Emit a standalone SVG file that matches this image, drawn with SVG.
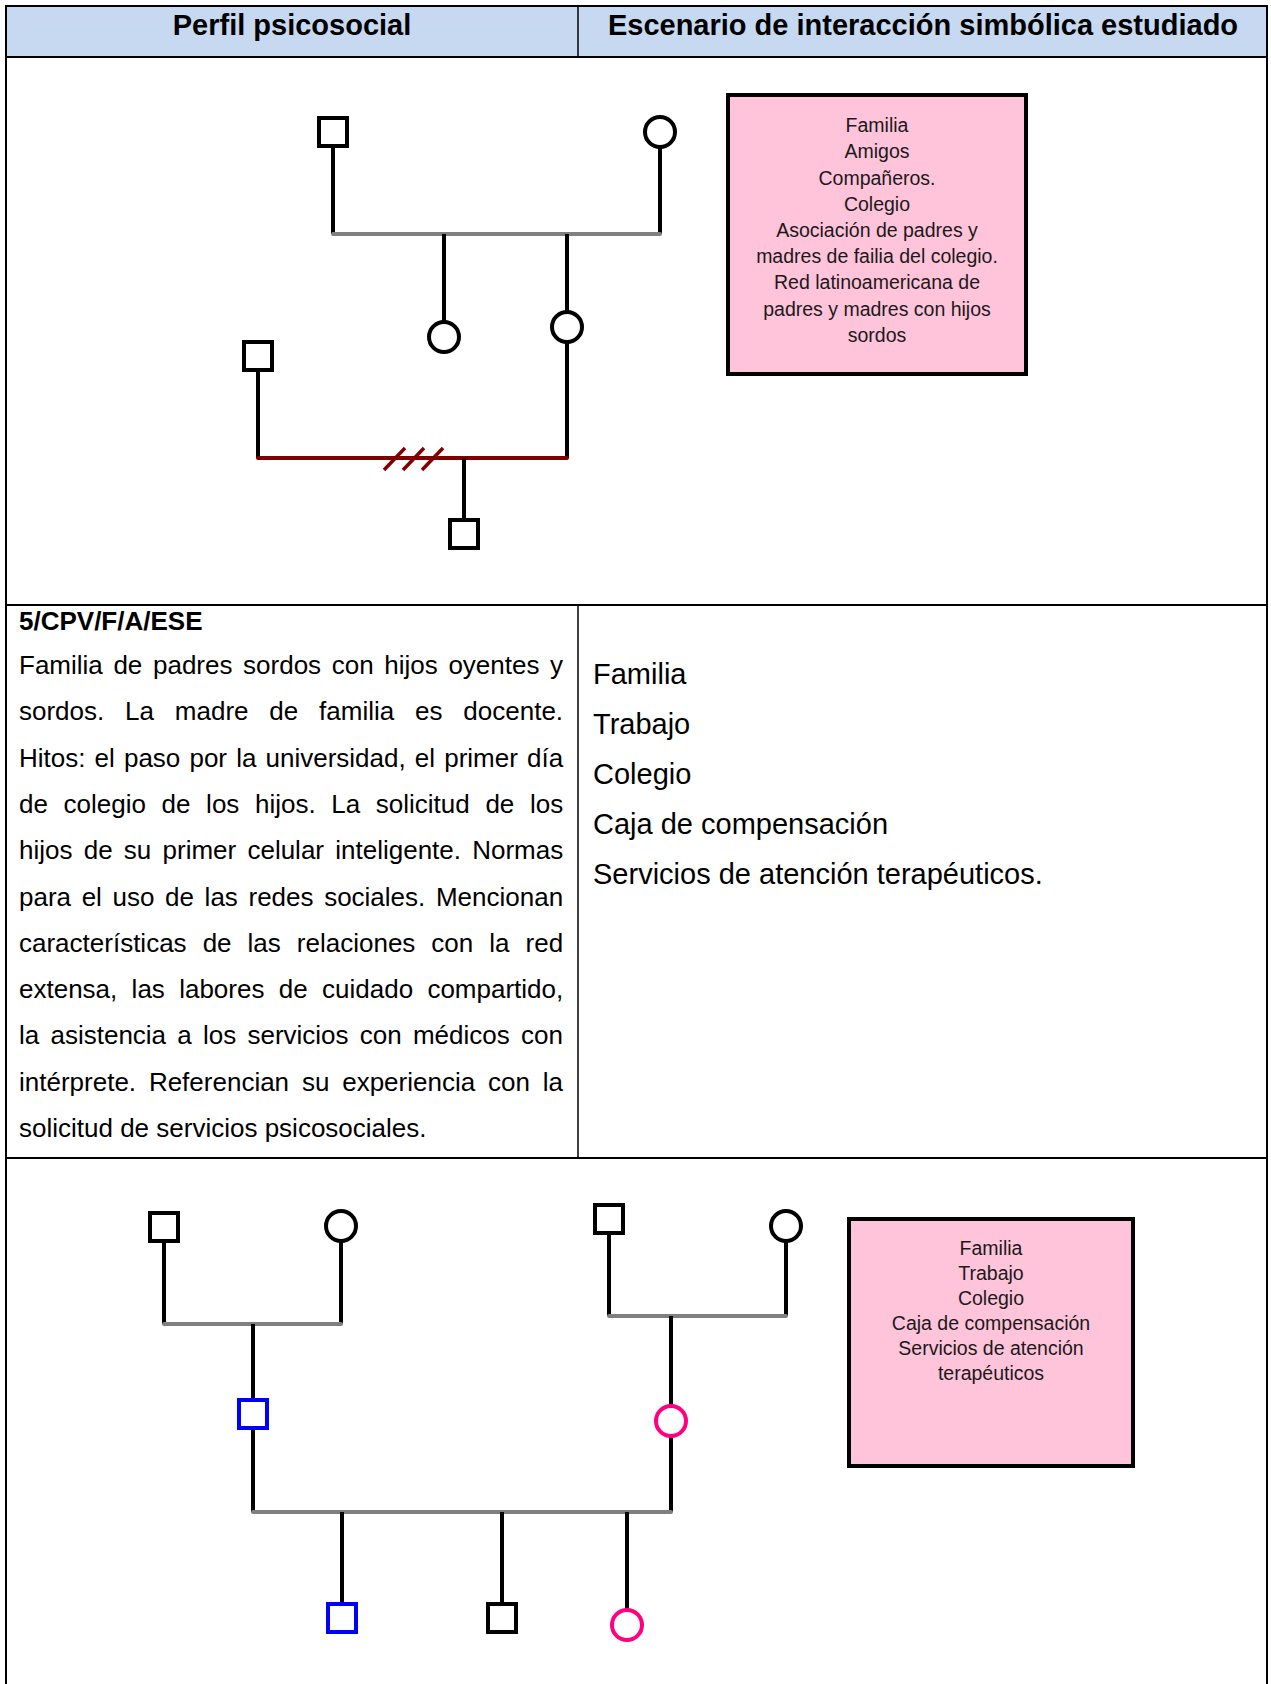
<svg xmlns="http://www.w3.org/2000/svg" width="1271" height="1684" viewBox="0 0 1271 1684">
  <style>
    .grid { stroke: #000; stroke-width: 2; fill: none; }
    .grid-thin { stroke: #000; stroke-width: 1.5; fill: none; }
    .hdr { font-family: "Liberation Sans", Arial, sans-serif; font-weight: bold; font-size: 29px; fill: #000; text-anchor: middle; }
    .body { font-family: "Liberation Sans", Arial, sans-serif; font-size: 26px; fill: #000; }
    .body-b { font-family: "Liberation Sans", Arial, sans-serif; font-size: 26px; font-weight: bold; fill: #000; }
    .list { font-family: "Liberation Sans", Arial, sans-serif; font-size: 29px; fill: #000; }
    .note { fill: #FFC3DA; stroke: #000; stroke-width: 4; }
    .note-text { font-family: "Liberation Sans", Arial, sans-serif; font-size: 19.5px; fill: #1a1a1a; text-anchor: middle; }
    .male { fill: #fff; stroke: #000; stroke-width: 4; }
    .female { fill: #fff; stroke: #000; stroke-width: 4; }
    .male.deaf { stroke: #0000FF; }
    .female.deaf { stroke: #FF0080; }
    .union { stroke: #808080; stroke-width: 4; stroke-linecap: round; fill: none; }
    .divorce { stroke: #800000; stroke-width: 4; stroke-linecap: round; fill: none; }
    .tick { stroke: #800000; stroke-width: 3.5; fill: none; }
    .descent { stroke: #000; stroke-width: 4; fill: none; }
  </style>

  <!-- table frame -->
  <g id="table">
    <rect x="6" y="6" width="1261" height="51" fill="#C6D9F1"/>
    <line class="grid" x1="6" y1="6" x2="1267" y2="6"/>
    <line class="grid" x1="6" y1="57" x2="1267" y2="57"/>
    <line class="grid" x1="6" y1="605" x2="1267" y2="605"/>
    <line class="grid" x1="6" y1="1158" x2="1267" y2="1158"/>
    <line class="grid" x1="6" y1="5" x2="6" y2="1684"/>
    <line class="grid" x1="1267" y1="5" x2="1267" y2="1684"/>
    <line class="grid-thin" x1="578" y1="6" x2="578" y2="57"/>
    <line class="grid-thin" x1="578" y1="605" x2="578" y2="1158"/>
    <text class="hdr" x="292" y="35">Perfil psicosocial</text>
    <text class="hdr" x="923" y="35">Escenario de interacción simbólica estudiado</text>
  </g>

  <!-- first genogram: connectors -->
  <g id="connectors-1">
    <line class="descent" x1="333" y1="148" x2="333" y2="234"/>
    <line class="descent" x1="660" y1="148" x2="660" y2="234"/>
    <line class="union" x1="333" y1="234" x2="660" y2="234"/>
    <line class="descent" x1="444" y1="234" x2="444" y2="322"/>
    <line class="descent" x1="567" y1="234" x2="567" y2="312"/>
    <line class="descent" x1="567" y1="342" x2="567" y2="458"/>
    <line class="descent" x1="258" y1="372" x2="258" y2="458"/>
    <line class="divorce" x1="258" y1="458" x2="567" y2="458"/>
    <line class="tick" x1="384" y1="470" x2="405" y2="448"/>
    <line class="tick" x1="403" y1="470" x2="424" y2="448"/>
    <line class="tick" x1="422" y1="470" x2="443" y2="448"/>
    <line class="descent" x1="464" y1="458" x2="464" y2="520"/>
  </g>

  <!-- first genogram: people -->
  <g id="g1-grandfather"><rect class="male" x="319" y="118" width="28" height="28"/></g>
  <g id="g1-grandmother"><circle class="female" cx="660" cy="132" r="15"/></g>
  <g id="g1-daughter"><circle class="female" cx="444" cy="337" r="15"/></g>
  <g id="g1-mother"><circle class="female" cx="567" cy="327" r="15"/></g>
  <g id="g1-father"><rect class="male" x="244" y="342" width="28" height="28"/></g>
  <g id="g1-son"><rect class="male" x="450" y="520" width="28" height="28"/></g>

  <g id="g1-note">
    <rect class="note" x="728" y="95" width="298" height="279"/>
    <text class="note-text" x="877" y="132">Familia</text>
    <text class="note-text" x="877" y="158">Amigos</text>
    <text class="note-text" x="877" y="184.5">Compañeros.</text>
    <text class="note-text" x="877" y="210.5">Colegio</text>
    <text class="note-text" x="877" y="237">Asociación de padres y</text>
    <text class="note-text" x="877" y="263">madres de failia del colegio.</text>
    <text class="note-text" x="877" y="289">Red latinoamericana de</text>
    <text class="note-text" x="877" y="315.5">padres y madres con hijos</text>
    <text class="note-text" x="877" y="341.5">sordos</text>
  </g>

  <!-- profile description -->
  <g id="profile">
    <text class="body-b" x="19" y="630">5/CPV/F/A/ESE</text>
    <text class="body" x="19" y="674" style="word-spacing:3.4px">Familia de padres sordos con hijos oyentes y</text>
    <text class="body" x="19" y="720.3" style="word-spacing:13.6px">sordos. La madre de familia es docente.</text>
    <text class="body" x="19" y="766.6" style="word-spacing:1.9px">Hitos: el paso por la universidad, el primer día</text>
    <text class="body" x="19" y="812.9" style="word-spacing:8.4px">de colegio de los hijos. La solicitud de los</text>
    <text class="body" x="19" y="859.2" style="word-spacing:4px">hijos de su primer celular inteligente. Normas</text>
    <text class="body" x="19" y="905.5" style="word-spacing:3.4px">para el uso de las redes sociales. Mencionan</text>
    <text class="body" x="19" y="951.8" style="word-spacing:8.8px">características de las relaciones con la red</text>
    <text class="body" x="19" y="998.1" style="word-spacing:7.1px">extensa, las labores de cuidado compartido,</text>
    <text class="body" x="19" y="1044.4" style="word-spacing:4px">la asistencia a los servicios con médicos con</text>
    <text class="body" x="19" y="1090.7" style="word-spacing:5.6px">intérprete. Referencian su experiencia con la</text>
    <text class="body" x="19" y="1137">solicitud de servicios psicosociales.</text>
  </g>

  <g id="scenario">
    <text class="list" x="593" y="684">Familia</text>
    <text class="list" x="593" y="734">Trabajo</text>
    <text class="list" x="593" y="784">Colegio</text>
    <text class="list" x="593" y="834">Caja de compensación</text>
    <text class="list" x="593" y="884">Servicios de atención terapéuticos.</text>
  </g>

  <!-- second genogram: connectors -->
  <g id="connectors-2">
    <line class="descent" x1="164" y1="1242" x2="164" y2="1324"/>
    <line class="descent" x1="341" y1="1241" x2="341" y2="1324"/>
    <line class="union" x1="164" y1="1324" x2="341" y2="1324"/>
    <line class="descent" x1="253" y1="1324" x2="253" y2="1400"/>
    <line class="descent" x1="253" y1="1428" x2="253" y2="1512"/>
    <line class="descent" x1="609" y1="1233" x2="609" y2="1316"/>
    <line class="descent" x1="786" y1="1241" x2="786" y2="1316"/>
    <line class="union" x1="609" y1="1316" x2="786" y2="1316"/>
    <line class="descent" x1="671" y1="1316" x2="671" y2="1406"/>
    <line class="descent" x1="671" y1="1436" x2="671" y2="1512"/>
    <line class="union" x1="253" y1="1512" x2="671" y2="1512"/>
    <line class="descent" x1="342" y1="1512" x2="342" y2="1604"/>
    <line class="descent" x1="502" y1="1512" x2="502" y2="1604"/>
    <line class="descent" x1="627" y1="1512" x2="627" y2="1610"/>
  </g>

  <!-- second genogram: people -->
  <g id="g2-paternal-grandfather"><rect class="male" x="150" y="1213" width="28" height="28"/></g>
  <g id="g2-paternal-grandmother"><circle class="female" cx="341" cy="1226" r="15"/></g>
  <g id="g2-maternal-grandfather"><rect class="male" x="595" y="1205" width="28" height="28"/></g>
  <g id="g2-maternal-grandmother"><circle class="female" cx="786" cy="1226" r="15"/></g>
  <g id="g2-father"><rect class="male deaf" x="239" y="1400" width="28" height="28"/></g>
  <g id="g2-mother"><circle class="female deaf" cx="671" cy="1421" r="15"/></g>
  <g id="g2-son-deaf"><rect class="male deaf" x="328" y="1604" width="28" height="28"/></g>
  <g id="g2-son-hearing"><rect class="male" x="488" y="1604" width="28" height="28"/></g>
  <g id="g2-daughter-deaf"><circle class="female deaf" cx="627" cy="1625" r="15"/></g>

  <g id="g2-note">
    <rect class="note" x="849" y="1219" width="284" height="247"/>
    <text class="note-text" x="991" y="1255">Familia</text>
    <text class="note-text" x="991" y="1280">Trabajo</text>
    <text class="note-text" x="991" y="1305">Colegio</text>
    <text class="note-text" x="991" y="1330">Caja de compensación</text>
    <text class="note-text" x="991" y="1355">Servicios de atención</text>
    <text class="note-text" x="991" y="1380">terapéuticos</text>
  </g>
</svg>
